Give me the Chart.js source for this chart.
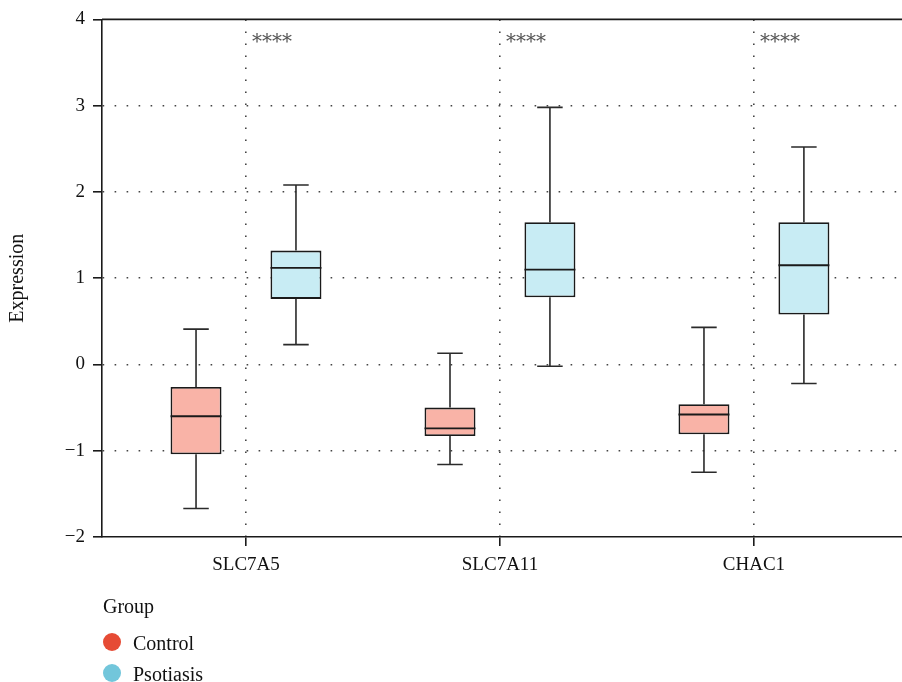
<!DOCTYPE html>
<html>
<head>
<meta charset="utf-8">
<script src="https://cdn.jsdelivr.net/npm/chart.js@4.4.1/dist/chart.umd.min.js"></script>
<style>
  html, body { margin: 0; padding: 0; background: #fff; }
  #wrap { position: relative; width: 902px; height: 682px; overflow: hidden; }
  canvas { display: block; }
  .lg { position: absolute; font-family: "Liberation Serif", "DejaVu Serif", serif; font-size: 20px; line-height: 20px; color: #111; white-space: nowrap; }
  .dot { position: absolute; width: 18px; height: 18px; border-radius: 50%; }
</style>
</head>
<body>
<div id="wrap">
  <canvas id="c" width="902" height="682"></canvas>
  <div class="lg" style="left:103px; top:596px;">Group</div>
  <div class="dot" style="left:103px; top:633px; background:#E64B35;"></div>
  <div class="lg" style="left:133px; top:633px;">Control</div>
  <div class="dot" style="left:103px; top:664px; background:#72C6DB;"></div>
  <div class="lg" style="left:133px; top:664px;">Psotiasis</div>
</div>
<script>
const categories = ['SLC7A5', 'SLC7A11', 'CHAC1'];
const groups = ['Control', 'Psotiasis'];
const significance = ['****', '****', '****'];

const controlMin    = [-1.67, -1.16, -1.25];
const controlQ1     = [-1.04, -0.83, -0.81];
const controlMedian = [-0.60, -0.74, -0.58];
const controlQ3     = [-0.26, -0.50, -0.46];
const controlMax    = [ 0.41,  0.13,  0.43];

const psoMin    = [0.23, -0.02, -0.22];
const psoQ1     = [0.76,  0.78,  0.58];
const psoMedian = [1.12,  1.10,  1.15];
const psoQ3     = [1.32,  1.65,  1.65];
const psoMax    = [2.08,  2.98,  2.52];

const yTicks = [-2, -1, 0, 1, 2, 3, 4];

const stats = [
  {min: controlMin, q1: controlQ1, med: controlMedian, q3: controlQ3, max: controlMax},
  {min: psoMin, q1: psoQ1, med: psoMedian, q3: psoQ3, max: psoMax}
];

const FONT = '"Liberation Serif", "DejaVu Serif", serif';
const INK = '#1a1a1a';

const boxPlugin = {
  id: 'boxParts',
  beforeDatasetsDraw(chart) {
    const ctx = chart.ctx, y = chart.scales.y;
    ctx.save();
    ctx.strokeStyle = '#2a2a2a';
    ctx.lineWidth = 1.6;
    stats.forEach((s, d) => {
      chart.getDatasetMeta(d).data.forEach((bar, i) => {
        const {x, width} = bar.getProps(['x', 'width'], true);
        const cap = width / 2;
        const yMax = y.getPixelForValue(s.max[i]);
        const yMin = y.getPixelForValue(s.min[i]);
        const yQ1 = y.getPixelForValue(s.q1[i]);
        const yQ3 = y.getPixelForValue(s.q3[i]);
        ctx.beginPath();
        ctx.moveTo(x, yQ3); ctx.lineTo(x, yMax);
        ctx.moveTo(x - cap / 2, yMax); ctx.lineTo(x + cap / 2, yMax);
        ctx.moveTo(x, yQ1); ctx.lineTo(x, yMin);
        ctx.moveTo(x - cap / 2, yMin); ctx.lineTo(x + cap / 2, yMin);
        ctx.stroke();
      });
    });
    ctx.restore();
  },
  afterDatasetsDraw(chart) {
    const ctx = chart.ctx, y = chart.scales.y, xs = chart.scales.x, area = chart.chartArea;
    ctx.save();
    ctx.strokeStyle = INK;
    ctx.lineWidth = 1.8;
    stats.forEach((s, d) => {
      chart.getDatasetMeta(d).data.forEach((bar, i) => {
        const {x, width} = bar.getProps(['x', 'width'], true);
        const ym = y.getPixelForValue(s.med[i]);
        ctx.beginPath();
        ctx.moveTo(x - width / 2, ym); ctx.lineTo(x + width / 2, ym);
        ctx.stroke();
      });
    });
    // top frame line
    ctx.lineWidth = 1.6;
    ctx.beginPath();
    ctx.moveTo(area.left, area.top); ctx.lineTo(area.right, area.top);
    ctx.stroke();
    // significance marks
    ctx.fillStyle = '#555';
    ctx.font = '20px "DejaVu Serif", serif';
    ctx.textBaseline = 'alphabetic';
    ctx.textAlign = 'left';
    significance.forEach((t, i) => {
      ctx.fillText(t, xs.getPixelForValue(i + 1) + 6, area.top + 29);
    });
    ctx.restore();
  }
};

const gridColor = (ctx) => {
  const v = ctx.tick ? ctx.tick.value : null;
  return (v === 4 || v === -2) ? 'rgba(0,0,0,0)' : '#444';
};

new Chart(document.getElementById('c'), {
  type: 'bar',
  data: {
    datasets: [
      {
        label: groups[0],
        data: categories.map((c, i) => ({x: i + 1, y: [controlQ1[i], controlQ3[i]]})),
        backgroundColor: '#F9B3A7',
        borderColor: INK,
        borderWidth: 1.8,
        borderSkipped: false
      },
      {
        label: groups[1],
        data: categories.map((c, i) => ({x: i + 1, y: [psoQ1[i], psoQ3[i]]})),
        backgroundColor: '#C8ECF4',
        borderColor: INK,
        borderWidth: 1.8,
        borderSkipped: false
      }
    ]
  },
  options: {
    responsive: false,
    animation: false,
    devicePixelRatio: 1,
    categoryPercentage: 0.787,
    barPercentage: 0.51,
    layout: {padding: {top: 19, right: 0, left: 0, bottom: 0}},
    plugins: {
      legend: {display: false},
      tooltip: {enabled: false}
    },
    scales: {
      x: {
        type: 'linear',
        min: 0.433,
        max: 3.583,
        offset: false,
        afterBuildTicks: (s) => { s.ticks = categories.map((c, i) => ({value: i + 1})); },
        afterFit: (s) => { s.height = 145; },
        ticks: {
          callback: (v) => categories[Math.round(v) - 1] || '',
          autoSkip: false,
          maxRotation: 0,
          padding: 8,
          color: '#111',
          font: {family: FONT, size: 19}
        },
        grid: {
          offset: false,
          color: gridColor,
          lineWidth: 1.6,
          tickLength: 9,
          tickColor: INK,
          tickWidth: 1.6,
          tickBorderDash: []
        },
        border: {display: true, color: INK, width: 1.6, dash: [1.6, 10.4]}
      },
      y: {
        type: 'linear',
        min: -2,
        max: 4,
        afterBuildTicks: (s) => { s.ticks = yTicks.map(v => ({value: v})); },
        afterFit: (s) => { s.width = 102; },
        ticks: {
          callback: (v) => String(v).replace('-', '\u2212'),
          padding: 8,
          color: '#111',
          font: {family: FONT, size: 19}
        },
        grid: {
          color: gridColor,
          lineWidth: 1.6,
          tickLength: 9,
          tickColor: INK,
          tickWidth: 1.6,
          tickBorderDash: []
        },
        border: {display: true, color: INK, width: 1.6, dash: [1.6, 10.4]},
        title: {
          display: true,
          text: 'Expression',
          color: '#111',
          font: {family: FONT, size: 20},
          padding: {top: 6, bottom: 0}
        }
      }
    }
  },
  plugins: [boxPlugin]
});
</script>
</body>
</html>
